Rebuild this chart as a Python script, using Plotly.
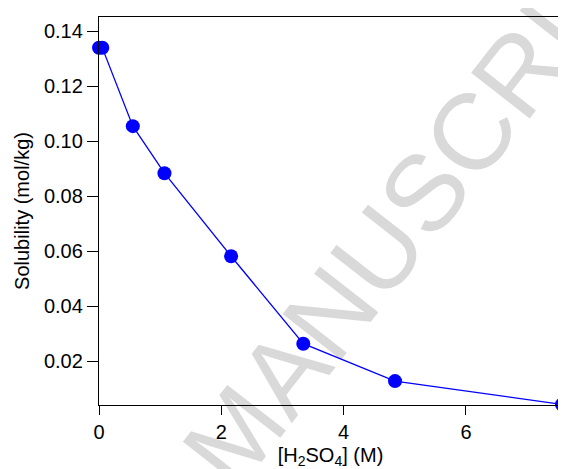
import plotly.graph_objects as go

conc_h2so4 = [0.0, 0.054, 0.553, 1.07, 2.16, 3.34, 4.84, 7.57]
solubility = [0.1340, 0.1340, 0.1055, 0.0884, 0.0582, 0.0264, 0.0128, 0.0043]
x_ticks = [0, 2, 4, 6]
y_ticks = [0.02, 0.04, 0.06, 0.08, 0.10, 0.12, 0.14]
watermark = "MANUSCRIPT"

font = "Liberation Sans, Arial, sans-serif"

fig = go.Figure()
fig.add_trace(go.Scatter(
    x=conc_h2so4, y=solubility, mode="lines+markers",
    line=dict(color="#0000ff", width=1.3),
    marker=dict(color="#0000ff", size=14),
    cliponaxis=False, showlegend=False,
))

fig.add_shape(
    type="rect", xref="paper", yref="paper",
    x0=0.690, y0=0.570, x1=0.690, y1=0.570,
    line=dict(width=0, color="rgba(0,0,0,0)"), fillcolor="rgba(0,0,0,0)",
    layer="below",
    label=dict(text=watermark, textangle=-52,
               font=dict(family=font, size=108, color="#d9d9d9"),
               textposition="middle center", xanchor="center", yanchor="middle"),
)

# page body has an 8px margin, so the figure is sized/offset to compensate
fig.update_layout(
    width=558, height=461,
    margin=dict(l=91, r=4, t=9, b=64),
    paper_bgcolor="white", plot_bgcolor="rgba(0,0,0,0)",
    font=dict(family=font, size=20, color="black"),
    xaxis=dict(
        range=[0, 7.57], tickvals=x_ticks, ticks="outside", ticklen=9,
        tickwidth=1.3, tickcolor="black", showline=True, linecolor="black",
        linewidth=1.3, mirror=True, showgrid=False, zeroline=False,
        tickfont=dict(size=20), automargin=False,
        title=dict(text="[H<sub>2</sub>SO<sub>4</sub>] (M)", font=dict(size=20), standoff=10),
    ),
    yaxis=dict(
        range=[0.0041, 0.1452], tickvals=y_ticks, tickformat=".2f",
        ticks="outside", ticklen=11, tickwidth=1.3, tickcolor="black",
        showline=True, linecolor="black", linewidth=1.3, mirror=True,
        showgrid=False, zeroline=False, tickfont=dict(size=20), automargin=False,
        title=dict(text="Solubility (mol/kg)", font=dict(size=20), standoff=8),
    ),
)
fig.write_html("out.html")
